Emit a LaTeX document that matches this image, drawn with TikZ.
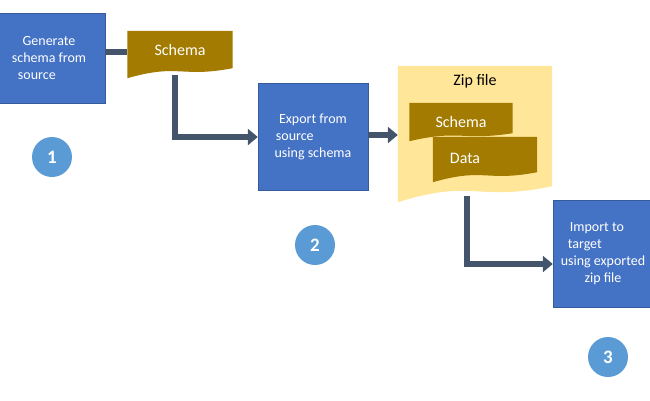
\documentclass[tikz,border=0pt]{standalone}
\usepackage{fontspec}
\setmainfont{Carlito}
\usetikzlibrary{arrows.meta,calc,positioning}
\definecolor{stepblue}{HTML}{4472C4}
\definecolor{docbrown}{HTML}{A27B00}
\definecolor{zipyellow}{HTML}{FFE699}
\definecolor{linkgray}{HTML}{44546A}
\definecolor{numblue}{HTML}{5B9BD5}
\tikzset{
        stage/.style={fill=stepblue, draw=stepblue!80!black, text=white,
                     align=center, inner sep=2pt, font=\fontsize{14}{17}\selectfont},
        doc/.style={inner sep=0pt, text=white, font=\fontsize{16}{18}\selectfont},
        num/.style={circle, fill=numblue, text=white, minimum size=40pt,
                    inner sep=0pt, font=\bfseries\fontsize{19}{20}\selectfont},
        link/.style={draw=linkgray, line width=6pt},
        linkarrow/.style={link, -{Triangle[length=10pt,width=16pt]}},
}
% wavy-bottom document: fill the area of a node
\newcommand{\docfill}[3]{%
  \fill[#2] (#1.north west) -- (#1.north east) -- ($(#1.south east)+(0,#3)$)
    .. controls ($(#1.south)+(0,-#3)$) and ($(#1.south)+(0,2*#3)$) .. ($(#1.south west)-(0,#3)$) -- cycle;}
\begin{document}
\begin{tikzpicture}[x=1pt,y=1pt]
    \useasboundingbox (0,0) rectangle (650,-400);
    \clip (0,0) rectangle (650,-400);

    % stages
    \node[stage, minimum width=112pt, minimum height=90pt] (gen) at (49,-58)
    {Generate\\schema from\\source\phantom{xxxx}};
    \node[stage, minimum width=110pt, minimum height=107pt] (export) at (313,-137)
    {Export from\\source\phantom{xxxxxx}\\using schema};
    \node[stage, minimum width=100pt, minimum height=107pt] (import) at (603,-254)
    {Import to\phantom{xx}\\target\phantom{xxxxxx}\\using exported\\zip file};

    % schema document
    \node[doc, minimum width=105pt, minimum height=42pt] (schema) at (180,-52) {};
    \docfill{schema}{docbrown}{5}
    \node[doc, yshift=2pt] at (schema) {Schema};

    % zip file with its contents
    \node[doc, minimum width=154pt, minimum height=128pt] (zip) at (475,-130) {};
    \docfill{zip}{zipyellow}{8}
    \node[doc, text=black, anchor=north, yshift=-8pt] at (zip.north) {Zip file};
    \node[doc, minimum width=103pt, minimum height=34pt] (zschema) at (461,-120) {};
    \docfill{zschema}{docbrown}{4}
    \node[doc] at ($(zschema)+(0,-2)$) {Schema};
    \node[doc, minimum width=104pt, minimum height=40pt] (zdata) at (485,-157) {};
    \docfill{zdata}{docbrown}{5}
    \node[doc] at ($(zdata)+(-20,-1)$) {Data};

    % connectors
    \draw[link] (gen.east |- schema.west) -- (schema.west);
    \draw[linkarrow] ($(schema.south)+(-5,-2)$) |- (export.west);
    \draw[linkarrow] ([yshift=2pt]export.east) -- ([yshift=2pt]export.east -| zip.west);
    \draw[linkarrow] ($(zip.south)+(-8,-2)$) |- ([yshift=-10pt]import.west);

    % stage numbers
    \node[num] (n1) at (52,-157) {1};
    \node[num] (n2) at (315,-245) {2};
    \node[num] (n3) at (608,-357) {3};
\end{tikzpicture}
\end{document}
